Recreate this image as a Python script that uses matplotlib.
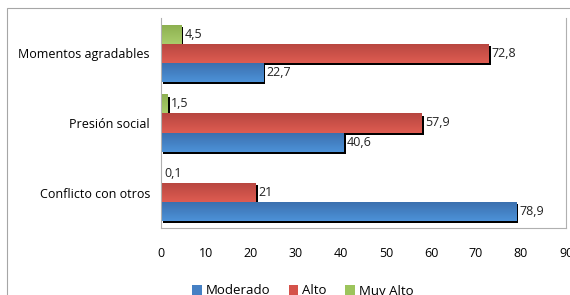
import numpy as np
import matplotlib
matplotlib.use("Agg")
import matplotlib.pyplot as plt
import matplotlib.patheffects as pe
from matplotlib.patches import Rectangle, Patch
from matplotlib.colors import LinearSegmentedColormap

################################################# Data
categories = ["Conflicto con otros", "Presión social", "Momentos agradables"]
moderado = [78.9, 40.6, 22.7]
alto = [21, 57.9, 72.8]
muy_alto = [0.1, 1.5, 4.5]
series_names = ["Moderado", "Alto", "Muy Alto"]
colors = ["#4580c4", "#d5524a", "#9cc45c"]
grad_top = ["#4d92d8", "#de5c52", "#a9cd6b"]
grad_bot = ["#3a6ead", "#b7463f", "#8caf4f"]

################################################# Plot
plt.rcParams["font.family"] = ["Open Sans", "DejaVu Sans"]
fig = plt.figure(figsize=(5.7, 2.95), dpi=100)
ax = fig.add_axes([161 / 570, 1 - 228 / 295, 405 / 570, 210 / 295])

# outer frame
fig.patches.append(Rectangle((7 / 570, -0.05), 1.0, 1 - 8 / 295 + 0.05,
                             transform=fig.transFigure, fill=False,
                             edgecolor="#a6a6a6", linewidth=0.8))

y = np.arange(len(categories))
h = 0.275
shadow = [pe.SimplePatchShadow(offset=(1.6, -1.6), shadow_rgbFace="black", alpha=1), pe.Normal()]
grad = np.linspace(0, 1, 50).reshape(-1, 1)

for i, (vals, off, name) in enumerate(zip([moderado, alto, muy_alto], [-h, 0, h], series_names)):
    cmap = LinearSegmentedColormap.from_list("g%d" % i, [grad_top[i], grad_bot[i]])
    bars = ax.barh(y + off, vals, height=h, color=colors[i])
    for b, v in zip(bars, vals):
        if v > 0.5:
            b.set_path_effects(shadow)
        y0 = b.get_y()
        im = ax.imshow(grad, cmap=cmap, extent=[0, v, y0 + h, y0], origin="upper",
                       aspect="auto", zorder=b.get_zorder() + 0.1, interpolation="bilinear")
        im.set_clip_path(b)
    for yy, v in zip(y + off, vals):
        txt = ("%g" % v).replace(".", ",")
        ax.text(v + 0.7, yy, txt, va="center", ha="left", fontsize=9, color="#222222")

ax.set_xlim(0, 90)
ax.set_ylim(-0.5 - 0.01, 2.5 + 0.01)
ax.set_xticks(np.arange(0, 91, 10))
ax.set_yticks(y)
ax.set_yticklabels(categories)
ax.tick_params(axis="x", length=0, pad=14, labelsize=9)
ax.tick_params(axis="y", length=0, pad=8, labelsize=9)
ax.spines["top"].set_visible(False)
for s in ["left", "bottom", "right"]:
    ax.spines[s].set_color("#b0b0b0")
    ax.spines[s].set_linewidth(0.8)

handles = [Patch(facecolor=c, edgecolor="none") for c in colors]
ax.legend(handles, series_names, loc="center", bbox_to_anchor=(0.35, -0.30), ncol=3,
          frameon=False, fontsize=9.5, handlelength=0.75, handleheight=0.75,
          handletextpad=0.3, columnspacing=1.4)

fig.savefig("out.png", dpi=100)
